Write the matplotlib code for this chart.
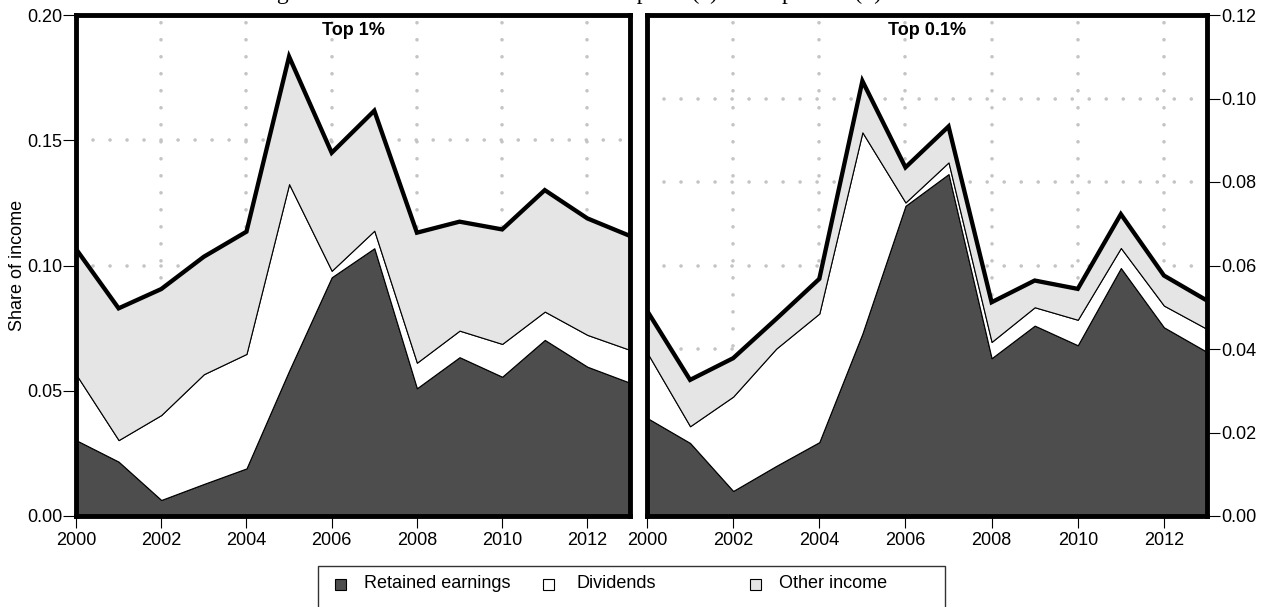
import matplotlib
matplotlib.use("Agg")
import matplotlib.pyplot as plt
import numpy as np
from matplotlib.patches import Rectangle

# ---- data -------------------------------------------------------------
years = np.arange(2000, 2014)

top1_retained = [0.0303, 0.0217, 0.0064, 0.0128, 0.0190, 0.0580, 0.0953,
                 0.1069, 0.0510, 0.0634, 0.0556, 0.0703, 0.0596, 0.0532]
top1_dividends = [0.0263, 0.0086, 0.0339, 0.0438, 0.0457, 0.0745, 0.0026,
                  0.0070, 0.0102, 0.0106, 0.0131, 0.0113, 0.0127, 0.0131]
top1_other = [0.0500, 0.0526, 0.0503, 0.0469, 0.0488, 0.0509, 0.0471,
              0.0479, 0.0519, 0.0435, 0.0457, 0.0485, 0.0465, 0.0455]

top01_retained = [0.0235, 0.0175, 0.0060, 0.0120, 0.0177, 0.0437, 0.0743,
                  0.0819, 0.0378, 0.0456, 0.0409, 0.0594, 0.0452, 0.0393]
top01_dividends = [0.0157, 0.0040, 0.0226, 0.0281, 0.0308, 0.0482, 0.0008,
                   0.0028, 0.0039, 0.0044, 0.0061, 0.0048, 0.0052, 0.0055]
top01_other = [0.0100, 0.0111, 0.0092, 0.0071, 0.0083, 0.0123, 0.0084,
               0.0086, 0.0095, 0.0064, 0.0074, 0.0081, 0.0072, 0.0068]

x_ticks = [2000, 2002, 2004, 2006, 2008, 2010, 2012]
top1_yticks = [0.00, 0.05, 0.10, 0.15, 0.20]
top01_yticks = [0.00, 0.02, 0.04, 0.06, 0.08, 0.10, 0.12]
panel_titles = ["Top 1%", "Top 0.1%"]
legend_labels = ["Retained earnings", "Dividends", "Other income"]
y_label = "Share of income"
fig_title = ("Retained earnings as a share of total income for the "
             "top 1% (a) and top 0.1% (b)")

# ---- style ------------------------------------------------------------
DARK = "#4d4d4d"
LIGHT = "#e5e5e5"
GRID = "#c4c4c4"
FS = 13

plt.rcParams["font.family"] = ["Liberation Sans", "DejaVu Sans"]

W, H = 1263, 607
fig = plt.figure(figsize=(W / 100, H / 100), dpi=100)


def px_box(left, right, top, bottom):
    return [left / W, 1 - bottom / H, (right - left) / W, (bottom - top) / H]


ax1 = fig.add_axes(px_box(76, 630, 15, 516))
ax2 = fig.add_axes(px_box(647, 1207, 15, 516))


def draw_panel(ax, retained, dividends, other, yticks, title):
    r = np.asarray(retained)
    d = r + np.asarray(dividends)
    t = d + np.asarray(other)

    ax.set_axisbelow(True)
    ax.fill_between(years, 0, r, facecolor=DARK, edgecolor="black",
                    linewidth=0.8, zorder=1)
    ax.fill_between(years, r, d, facecolor="white", edgecolor="black",
                    linewidth=0.8, zorder=1.1)
    ax.fill_between(years, d, t, facecolor=LIGHT, edgecolor="black",
                    linewidth=0.8, zorder=1.2)
    ax.plot(years, t, color="black", linewidth=3.1,
            solid_joinstyle="miter", zorder=2)

    ax.set_xlim(years[0], years[-1])
    ax.set_ylim(yticks[0], yticks[-1])
    ax.set_xticks(x_ticks)
    ax.set_yticks(yticks)
    ax.set_xticklabels([str(v) for v in x_ticks])
    ax.set_yticklabels([f"{v:.2f}" for v in yticks])

    # dotted reference grid
    for xv in x_ticks[1:]:
        ax.axvline(xv, color=GRID, linewidth=2.6, dashes=(0.01, 4.7),
                   dash_capstyle="round", zorder=0.5)
    for yv in yticks[1:-1]:
        ax.axhline(yv, color=GRID, linewidth=2.6, dashes=(0.01, 4.7),
                   dash_capstyle="round", zorder=0.5)

    for sp in ax.spines.values():
        sp.set_linewidth(3.5)
        sp.set_zorder(3)

    ax.tick_params(axis="x", direction="out", length=8.5, width=0.8,
                   labelsize=FS, pad=3)
    ax.tick_params(axis="y", direction="out", length=9.5, width=0.8,
                   labelsize=FS, pad=0.5)

    ax.text(0.5, 0.970, title, transform=ax.transAxes, ha="center",
            va="center", fontsize=FS, fontweight="bold", zorder=4)


draw_panel(ax1, top1_retained, top1_dividends, top1_other,
           top1_yticks, panel_titles[0])
draw_panel(ax2, top01_retained, top01_dividends, top01_other,
           top01_yticks, panel_titles[1])

ax2.yaxis.tick_right()
ax2.yaxis.set_label_position("right")

fig.text(18 / W, 1 - 265 / H, y_label, rotation=90, ha="center",
         va="center", fontsize=FS)

# figure title sits just above the canvas edge; only descenders show
fig.text(128 / W, 1 + 0.5 / H, fig_title, family="Liberation Serif",
         fontsize=17, ha="left", va="baseline")

# ---- legend -----------------------------------------------------------
fig.patches.append(Rectangle((318 / W, 1 - 625 / H), (945 - 318) / W,
                             (625 - 566) / H, transform=fig.transFigure,
                             facecolor="white", edgecolor="#333333",
                             linewidth=1.0))
sq = 11
legend_fills = [DARK, "white", LIGHT]
sq_x = [340, 548, 755]
txt_x = [364, 576, 779]
row_y = 584
for fc, sx, tx, lab in zip(legend_fills, sq_x, txt_x, legend_labels):
    fig.patches.append(Rectangle(((sx - sq / 2) / W, 1 - (row_y + sq / 2) / H),
                                 sq / W, sq / H, transform=fig.transFigure,
                                 facecolor=fc, edgecolor="black",
                                 linewidth=0.8))
    fig.text(tx / W, 1 - row_y / H, lab, ha="left", va="center",
             fontsize=FS)

fig.savefig("out.png", dpi=100)
